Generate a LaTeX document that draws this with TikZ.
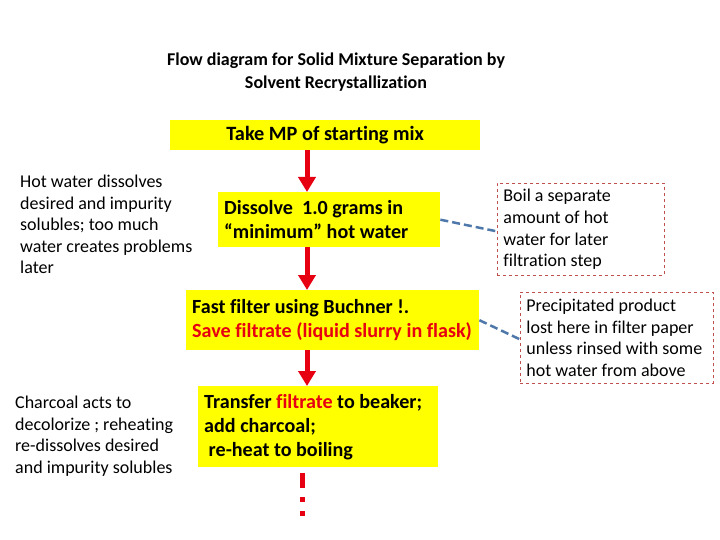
\documentclass[tikz,border=0pt]{standalone}
\usepackage{fontspec}
\setmainfont{Carlito}[Ligatures=NoCommon]
\usetikzlibrary{arrows.meta, positioning}

\definecolor{boxyellow}{RGB}{255,255,0}
\definecolor{flowred}{RGB}{230,0,18}
\definecolor{notered}{RGB}{192,80,77}
\definecolor{linkblue}{RGB}{79,120,170}

\begin{document}
\begin{tikzpicture}[x=1pt, y=-1pt,
    stepbox/.style={fill=boxyellow, anchor=north west, inner xsep=6pt, inner ysep=0pt,
        align=flush left, font=\bfseries\fontsize{20.1}{24}\selectfont},
    notebox/.style={draw=notered, dashed, line width=0.8pt, anchor=north west, inner xsep=6pt,
        inner ysep=0pt, align=flush left, font=\fontsize{18}{21.7}\selectfont},
    sidenote/.style={anchor=north west, inner sep=0pt, align=flush left, font=\fontsize{18}{21.5}\selectfont},
    flow/.style={flowred, line width=5pt, -{Triangle[width=17pt,length=15pt]}},
    link/.style={linkblue, line width=2.5pt, dash pattern=on 8pt off 4pt}]
    \useasboundingbox (0,0) rectangle (720,540);

    % title
    \node[anchor=north, align=center, inner sep=0pt, font=\bfseries\fontsize{18}{22.5}\selectfont] (title)
        at (336,53) {Flow diagram for Solid Mixture Separation by\\Solvent Recrystallization};

    % main steps
    \node[stepbox, minimum width=310pt, minimum height=30pt, align=center,
        font=\bfseries\fontsize{20.3}{24}\selectfont] (take) at (170,120)
        {Take MP of starting mix};
    \node[stepbox, minimum width=222pt, minimum height=55pt, text width=210pt] (dissolve) at (218,192)
        {Dissolve\ \ 1.0 grams in\\“minimum” hot water};
    \node[stepbox, minimum width=293pt, minimum height=60pt, text width=281pt] (filter) at (186,290)
        {Fast filter using Buchner !.\\\textcolor{flowred}{Save filtrate (liquid slurry in flask)}};
    \node[stepbox, minimum width=240pt, minimum height=81pt, text width=228pt] (transfer) at (198,386)
        {Transfer \textcolor{flowred}{filtrate} to beaker;\\add charcoal;\\\ re-heat to boiling};

    % arrows along the spine
    \coordinate (spine) at (307,0);
    \coordinate (stop) at (302,517);
    \draw[flow] (spine |- take.south) -- (spine |- dissolve.north);
    \draw[flow] (spine |- dissolve.south) -- (spine |- filter.north);
    \draw[flow] (spine |- filter.south) -- (spine |- transfer.north);
    \draw[flowred, line width=5pt, dash pattern=on 15pt off 9pt on 5pt off 9pt on 5pt off 9pt]
        ([yshift=-6pt]stop |- transfer.south) -- (stop);

    % notes on the right
    \node[notebox, minimum width=167pt, minimum height=92pt, text width=155pt] (boil) at (497,183)
        {Boil a separate\\amount of hot\\water for later\\filtration step};
    \node[notebox, minimum width=193pt, minimum height=91pt, text width=181pt] (lost) at (520,292)
        {Precipitated product\\lost here in filter paper\\unless rinsed with some\\hot water from above};
    \draw[link] (dissolve.east) -- ([yshift=-2pt]boil.west);
    \draw[link] (filter.east) -- ([yshift=-1.5pt]lost.west);

    % notes on the left
    \node[sidenote] (hotwater) at (20,175)
        {Hot water dissolves\\desired and impurity\\solubles; too much\\water creates problems\\later};
    \node[sidenote] (charcoal) at (15,396)
        {Charcoal acts to\\decolorize ; reheating\\re-dissolves desired\\and impurity solubles};
\end{tikzpicture}
\end{document}
